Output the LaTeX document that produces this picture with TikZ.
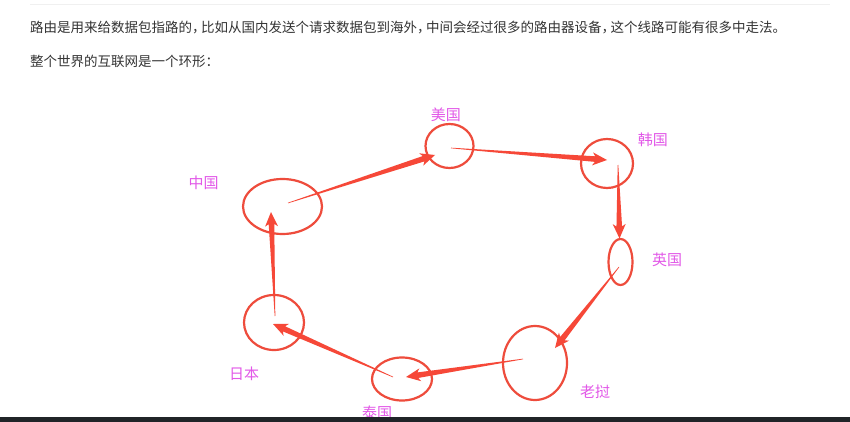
\documentclass[tikz,border=0pt]{standalone}
\usepackage{fontspec}
\setmainfont{Noto Sans CJK SC}
\usetikzlibrary{shapes.geometric,calc}
\definecolor{ringred}{RGB}{238,76,60}
\definecolor{arrred}{RGB}{246,72,56}
\definecolor{labmag}{RGB}{226,88,232}
\definecolor{bodytxt}{RGB}{51,51,51}
\definecolor{barcol}{RGB}{32,36,40}
\newcommand\taperarrow[2]{%
  \coordinate (hb) at ($(#2)!12pt!(#1)$);
  \coordinate (hk) at ($(#2)!14.5pt!(#1)$);
  \fill[arrred] ($(#1)!0.3pt!90:(#2)$) -- ($(hb)!2.8pt!90:(#2)$) -- ($(hk)!6.5pt!90:(#2)$) -- (#2)
     -- ($(hk)!6.5pt!-90:(#2)$) -- ($(hb)!2.8pt!-90:(#2)$) -- ($(#1)!0.3pt!-90:(#2)$) -- cycle;}
\newcommand\ncomma{，\kern-4.5pt}
\begin{document}
\begin{tikzpicture}[x=1pt,y=-1pt,
  ring/.style={ellipse,draw=ringred,line width=2.2pt,inner sep=0pt},
  lab/.style={text=labmag,font=\fontsize{15}{18}\selectfont,inner sep=0pt},
  body/.style={text=bodytxt,font=\fontsize{13.5}{16}\selectfont,inner sep=0pt,anchor=west}]
\useasboundingbox[fill=white] (0,0) rectangle (850,422);
\draw[gray!12,line width=0.8pt] (30,4) -- (830,4);
\node[body] (t1) at (30,28) {路由是用来给数据包指路的\ncomma 比如从国内发送个请求数据包到海外\ncomma 中间会经过很多的路由器设备\ncomma 这个线路可能有很多中走法。};
\node[body] (t2) at (30,61) {整个世界的互联网是一个环形：};
% rings
\node[ring,minimum width=79pt,minimum height=55pt] (cn) at (282.5,206.5) {};
\node[ring,minimum width=48pt,minimum height=44pt] (us) at (449.5,146) {};
\node[ring,minimum width=52pt,minimum height=49pt] (kr) at (607,163.5) {};
\node[ring,minimum width=24pt,minimum height=46pt] (uk) at (620.5,262) {};
\node[ring,minimum width=64pt,minimum height=74pt] (la) at (535,363) {};
\node[ring,minimum width=60pt,minimum height=43pt] (th) at (402,379) {};
\node[ring,minimum width=60pt,minimum height=55pt] (jp) at (274,322.5) {};
% labels
\node[lab] (lcn) at (203.5,183) {中国};
\node[lab] (lus) at (445.8,115) {美国};
\node[lab] (lkr) at (652.8,140) {韩国};
\node[lab] (luk) at (667,260) {英国};
\node[lab] (lla) at (595,392) {老挝};
\node[lab] (lth) at (377,413) {泰国};
\node[lab] (ljp) at (244,374) {日本};
% arrow end points
\coordinate (s1) at (288,203);   \coordinate (e1) at (435,155);
\coordinate (s2) at (451,148);   \coordinate (e2) at (607,160);
\coordinate (s3) at (618,165);   \coordinate (e3) at (619.5,238.5);
\coordinate (s4) at (619,267);   \coordinate (e4) at (555,348);
\coordinate (s5) at (523,359);   \coordinate (e5) at (406,377);
\coordinate (s6) at (393,377);   \coordinate (e6) at (273,324);
\coordinate (s7) at (275,316);   \coordinate (e7) at (271,212);
\taperarrow{s1}{e1}
\taperarrow{s2}{e2}
\taperarrow{s3}{e3}
\taperarrow{s4}{e4}
\taperarrow{s5}{e5}
\taperarrow{s6}{e6}
\taperarrow{s7}{e7}
% bottom bar
\fill[barcol] (0,417) rectangle (850,422);
\end{tikzpicture}
\end{document}
